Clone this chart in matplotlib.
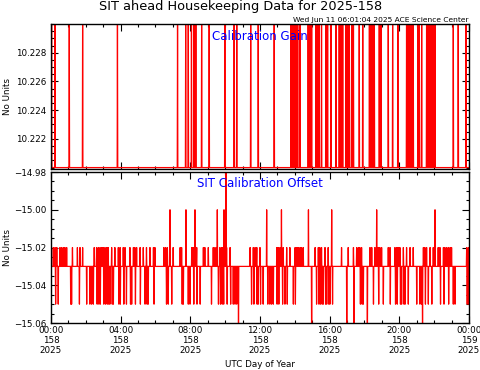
import numpy as np
import matplotlib
matplotlib.use('Agg')
import matplotlib.pyplot as plt
from matplotlib.ticker import MultipleLocator

# --- data (hours of day 158) ---
gain_base = 10.2200
gain_high = 10.2300
gain_spikes = [0.04, 0.23, 1.05, 1.82, 3.81, 7.27, 7.73, 7.88, 8.07, 8.21, 8.32,
               8.65, 9.09, 9.99, 10.52, 10.66, 11.47, 11.90, 12.82, 13.78, 13.88,
               13.97, 14.07, 14.17, 14.30, 14.77, 14.87, 14.97, 15.22, 15.31, 15.40,
               15.54, 15.79, 15.89, 16.08, 16.36, 16.55, 16.65, 16.75, 16.94, 17.04,
               17.13, 17.27, 17.36, 17.70, 17.90, 18.28, 18.37, 18.47, 18.56, 18.85,
               18.95, 19.37, 19.62, 19.91, 20.42, 20.52, 20.61, 20.71, 20.80, 21.06,
               21.15, 21.29, 21.57, 21.67, 21.76, 21.86, 21.95, 22.05, 23.10, 23.39,
               23.83]
gain_ticks = [10.222, 10.224, 10.226, 10.228]
gain_tick_labels = ['10.222', '10.224', '10.226', '10.228']

off_base = -15.03
off_up = [0.13, 0.23, 0.33, 0.52, 0.61, 0.71, 0.80, 0.90, 1.24, 1.51, 1.67, 1.82,
          2.49, 2.62, 2.72, 2.81, 2.91, 3.00, 3.10, 3.20, 3.29, 3.48, 3.67, 3.87,
          3.96, 4.15, 4.25, 4.54, 4.73, 4.82, 4.92, 5.11, 5.30, 5.49, 5.68, 5.88,
          5.97, 6.49, 6.58, 6.68, 7.02, 7.41, 7.50, 8.08, 8.17, 8.36, 8.75, 8.84,
          9.03, 9.32, 9.42, 9.51, 9.70, 9.80, 9.89, 10.08, 10.28, 11.43, 11.62,
          11.71, 11.81, 12.00, 12.96, 13.05, 13.15, 13.34, 13.53, 13.72, 14.01,
          14.11, 14.20, 14.30, 14.39, 14.49, 15.16, 15.35, 15.44, 15.54, 15.73,
          15.92, 16.69, 17.07, 17.36, 17.55, 17.65, 17.74, 17.84, 18.32, 18.41,
          18.60, 18.79, 18.89, 18.99, 19.37, 19.46, 19.75, 19.85, 19.94, 20.04,
          20.23, 20.42, 20.61, 20.80, 21.38, 21.47, 21.57, 21.76, 21.95, 22.24,
          22.33, 22.53, 22.62, 22.72, 22.81, 22.91, 23.00, 23.87, 23.96]
off_up_val = -15.02
off_down = [0.26, 0.42, 1.13, 1.19, 1.63, 2.05, 2.24, 2.33, 2.43, 2.65, 2.75, 2.84,
            3.03, 3.13, 3.23, 3.32, 3.39, 3.51, 3.58, 3.90, 3.99, 4.18, 4.34, 4.57,
            4.63, 4.85, 5.14, 5.40, 5.52, 5.59, 5.91, 6.64, 6.74, 6.93, 7.53, 7.60,
            7.89, 7.98, 8.20, 8.39, 8.56, 9.22, 9.61, 9.73, 9.83, 9.92, 10.11, 10.31,
            10.47, 10.56, 10.66, 11.52, 11.65, 11.84, 11.90, 12.03, 12.19, 12.45,
            12.57, 12.67, 12.77, 12.99, 13.08, 13.30, 13.44, 13.56, 13.91, 14.04,
            15.25, 15.38, 15.47, 15.57, 15.64, 15.76, 15.83, 15.95, 16.02, 16.16,
            17.77, 17.87, 17.93, 18.51, 18.82, 19.08, 19.49, 19.78, 19.88, 20.07,
            20.13, 20.26, 20.33, 20.52, 21.00, 21.19, 21.28, 21.50, 21.66, 21.86,
            22.36, 22.56, 22.84, 23.10, 23.20, 23.90, 23.99]
off_down_val = -15.05
off_hi = [6.83, 7.75, 8.27, 9.55, 9.93, 12.38, 13.24, 14.78, 16.11, 18.70, 22.05]
off_hi_val = -15.00
off_top = [10.05]
off_top_val = -14.97
off_low = [10.76, 14.97, 16.98, 17.40, 18.16, 21.34]
off_low_val = -15.07
off_ticks = [-15.06, -15.04, -15.02, -15.00, -14.98]
off_tick_labels = ['\u221215.06', '\u221215.04', '\u221215.02', '\u221215.00',
                   '\u221214.98']

xtick_hours = [0, 4, 8, 12, 16, 20, 24]
xtick_labels = ['00:00\n158\n2025', '04:00\n158\n2025', '08:00\n158\n2025',
                '12:00\n158\n2025', '16:00\n158\n2025', '20:00\n158\n2025',
                '00:00\n159\n2025']


def build(base, events):
    t = np.arange(0, 1441) / 60.0
    y = np.full(t.shape, base)
    for times, val in events:
        for h in times:
            y[int(round(h * 60))] = val
    return t, y


t_gain, y_gain = build(gain_base, [(gain_spikes, gain_high)])
t_off, y_off = build(off_base, [(off_up, off_up_val), (off_down, off_down_val),
                                (off_hi, off_hi_val), (off_top, off_top_val),
                                (off_low, off_low_val)])

plt.rcParams['font.family'] = 'DejaVu Sans'
fig = plt.figure(figsize=(4.81, 3.70), dpi=100)
ax1 = fig.add_axes([0.106, 0.5432, 0.869, 0.392])
ax2 = fig.add_axes([0.106, 0.127, 0.869, 0.408])


def style(ax):
    ax.set_xlim(0, 24)
    ax.xaxis.set_major_locator(MultipleLocator(4))
    ax.xaxis.set_minor_locator(MultipleLocator(1))
    ax.tick_params(which='both', direction='in', top=True, right=True,
                   labelsize=6.3, width=0.8)
    ax.tick_params(which='major', length=5)
    ax.tick_params(which='minor', length=2.5)
    ax.tick_params(axis='x', pad=2.5)
    for s in ax.spines.values():
        s.set_linewidth(1.0)
    ax.set_ylabel('No Units', fontsize=6.3)
    ax.yaxis.set_label_coords(-0.093, 0.5)


ax1.plot(t_gain, y_gain, color='red', lw=0.9)
style(ax1)
ax1.set_ylim(10.2199, 10.2300)
ax1.set_yticks(gain_ticks, gain_tick_labels)
ax1.yaxis.set_minor_locator(MultipleLocator(0.0005))
ax1.set_xticklabels([])
ax1.text(0.5, 0.96, 'Calibration Gain', transform=ax1.transAxes, ha='center',
         va='top', color='blue', fontsize=8.5)

ax2.plot(t_off, y_off, color='red', lw=0.9)
style(ax2)
ax2.set_ylim(-15.06, -14.98)
ax2.set_yticks(off_ticks, off_tick_labels)
ax2.yaxis.set_minor_locator(MultipleLocator(0.005))
ax2.set_xticks(xtick_hours)
ax2.set_xticklabels(xtick_labels, linespacing=1.1)
ax2.set_xlabel('UTC Day of Year', fontsize=6.3, labelpad=4)
ax2.text(0.5, 0.965, 'SIT Calibration Offset', transform=ax2.transAxes,
         ha='center', va='top', color='blue', fontsize=8.5)

fig.text(0.5, 0.982, 'SIT ahead Housekeeping Data for 2025-158', ha='center',
         va='center', fontsize=9.3)
fig.text(0.974, 0.947, 'Wed Jun 11 06:01:04 2025 ACE Science Center',
         ha='right', va='center', fontsize=5.4)

fig.savefig('out.png', dpi=100)
